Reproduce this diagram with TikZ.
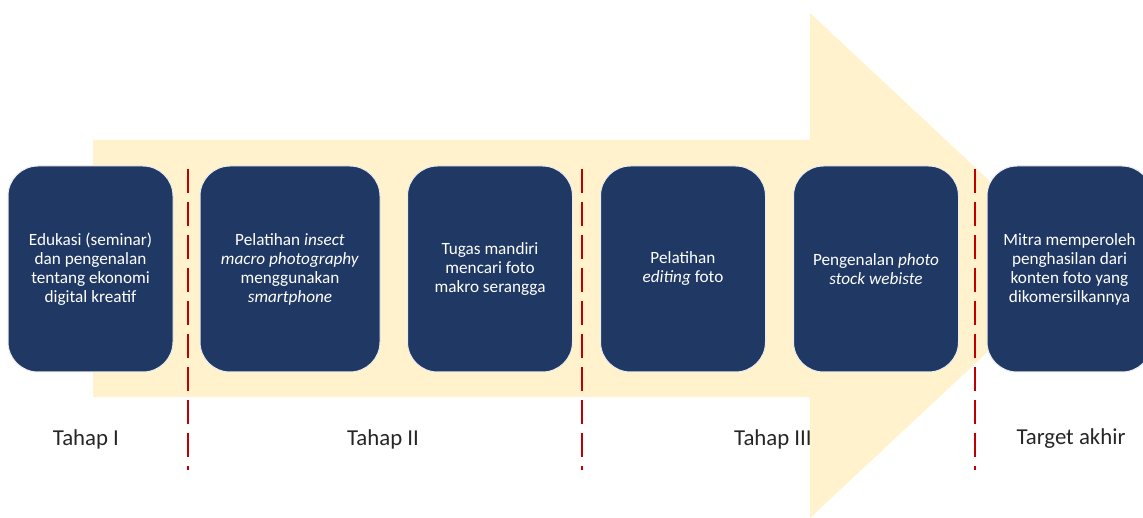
\documentclass[tikz,border=0pt]{standalone}
\usepackage{fontspec}
\setmainfont{Carlito}
\definecolor{navy}{HTML}{203864}
\definecolor{pale}{HTML}{FFF2CC}
\definecolor{dred}{HTML}{C00000}
\begin{document}
\begin{tikzpicture}[x=1pt,y=-1pt,
  stepbox/.style={rectangle, rounded corners=30pt, fill=navy, draw=white!85!gray, line width=1pt,
    minimum width=165pt, minimum height=206pt, text=white, align=center,
    font=\fontsize{17.2}{19}\selectfont, inner sep=0pt},
  sep/.style={dred, line width=2.8pt, dash pattern=on 24pt off 9pt},
  phase/.style={font=\fontsize{22.8}{26}\selectfont, text=black!85}]
\useasboundingbox (0,0) rectangle (1143,518);
\clip (0,0) rectangle (1143,518);
% big arrow
\fill[pale] (93,140) -- (810,140) -- (810,13) -- (1080,265.5) -- (810,518) -- (810,397) -- (93,397) -- cycle;
% separators
\coordinate (s1a) at (188,169); \coordinate (s1b) at (188,470);
\coordinate (s2a) at (582,169); \coordinate (s2b) at (582,470);
\coordinate (s3a) at (975,169); \coordinate (s3b) at (975,470);
\draw[sep] (s1a) -- (s1b);
\draw[sep] (s2a) -- (s2b);
\draw[sep] (s3a) -- (s3b);
% boxes
\node[stepbox] (b1) at (90.5,269) {Edukasi (seminar)\\dan pengenalan\\tentang ekonomi\\digital kreatif};
\node[stepbox, minimum width=180pt] (b2) at (290,269) {Pelatihan \textit{insect}\\\textit{macro photography}\\menggunakan\\\textit{smartphone}};
\node[stepbox] (b3) at (490,269) {Tugas mandiri\\mencari foto\\makro serangga};
\node[stepbox] (b4) at (683,269) {Pelatihan\\\textit{editing} foto};
\node[stepbox] (b5) at (876,269) {Pengenalan \textit{photo}\\\textit{stock webiste}};
\node[stepbox] (b6) at (1069.5,269) {Mitra memperoleh\\penghasilan dari\\konten foto yang\\dikomersilkannya};
% phase labels
\node[phase] (t1) at (86,439) {Tahap I};
\node[phase] (t2) at (383,439) {Tahap II};
\node[phase] (t3) at (773,439) {Tahap III};
\node[phase] (t4) at (1071,439) {Target akhir};
\end{tikzpicture}
\end{document}
